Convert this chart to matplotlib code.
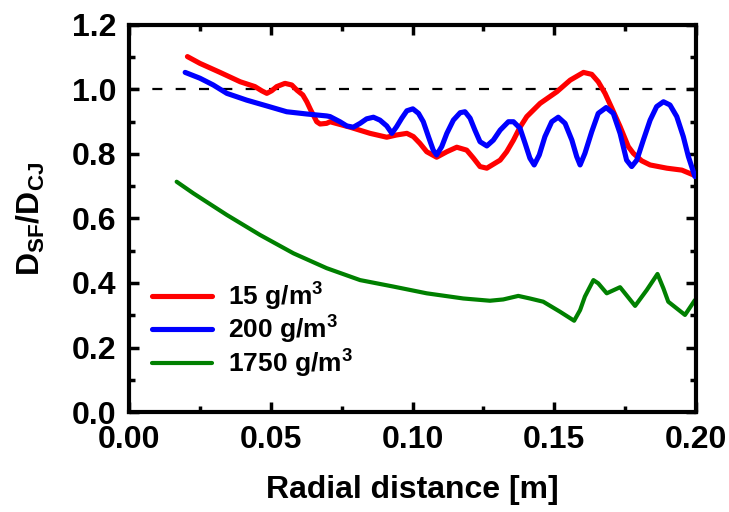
import matplotlib
matplotlib.use('Agg')
import matplotlib.pyplot as plt
from matplotlib.ticker import MultipleLocator

# ── data ──────────────────────────────────────────────────────────────────────
x_15 = [0.0206, 0.0250, 0.0321, 0.0392, 0.0444, 0.0468, 0.0486, 0.0503, 0.0521,
        0.0550, 0.0574, 0.0592, 0.0613, 0.0627, 0.0641, 0.0650, 0.0662, 0.0674,
        0.0697, 0.0709, 0.0780, 0.0850, 0.0909, 0.0944, 0.0980, 0.1003, 0.1026,
        0.1050, 0.1085, 0.1121, 0.1156, 0.1191, 0.1215, 0.1238, 0.1262, 0.1309,
        0.1332, 0.1356, 0.1379, 0.1403, 0.1450, 0.1509, 0.1556, 0.1603, 0.1632,
        0.1655, 0.1679, 0.1703, 0.1732, 0.1761, 0.1779, 0.1808, 0.1838, 0.1897,
        0.1950, 0.1991]
y_15 = [1.102, 1.081, 1.053, 1.024, 1.009, 0.996, 0.988, 0.996, 1.009,
        1.019, 1.014, 0.998, 0.983, 0.962, 0.936, 0.921, 0.900, 0.893,
        0.895, 0.900, 0.883, 0.864, 0.852, 0.859, 0.864, 0.854, 0.833,
        0.807, 0.790, 0.807, 0.821, 0.812, 0.787, 0.761, 0.756, 0.781,
        0.807, 0.843, 0.883, 0.916, 0.957, 0.993, 1.029, 1.053, 1.047,
        1.024, 0.988, 0.942, 0.885, 0.823, 0.802, 0.779, 0.766, 0.756,
        0.750, 0.735]

x_200 = [0.0198, 0.0250, 0.0297, 0.0345, 0.0415, 0.0486, 0.0556, 0.0627, 0.0697,
         0.0709, 0.0744, 0.0768, 0.0791, 0.0815, 0.0838, 0.0862, 0.0885, 0.0909,
         0.0927, 0.0944, 0.0962, 0.0980, 0.1001, 0.1021, 0.1038, 0.1056, 0.1073,
         0.1085, 0.1103, 0.1121, 0.1144, 0.1168, 0.1185, 0.1203, 0.1220, 0.1238,
         0.1262, 0.1285, 0.1309, 0.1338, 0.1356, 0.1379, 0.1397, 0.1414, 0.1429,
         0.1447, 0.1467, 0.1491, 0.1514, 0.1538, 0.1562, 0.1579, 0.1591, 0.1608,
         0.1632, 0.1655, 0.1683, 0.1708, 0.1732, 0.1755, 0.1773, 0.1791, 0.1814,
         0.1838, 0.1861, 0.1885, 0.1908, 0.1932, 0.1955, 0.1973, 0.1996]
y_200 = [1.053, 1.035, 1.014, 0.988, 0.967, 0.949, 0.931, 0.924, 0.918,
         0.916, 0.900, 0.887, 0.883, 0.895, 0.909, 0.914, 0.905, 0.887,
         0.864, 0.885, 0.911, 0.934, 0.940, 0.926, 0.900, 0.854, 0.812,
         0.797, 0.823, 0.864, 0.905, 0.928, 0.931, 0.911, 0.874, 0.838,
         0.825, 0.843, 0.874, 0.900, 0.900, 0.880, 0.833, 0.787, 0.766,
         0.797, 0.854, 0.900, 0.914, 0.895, 0.843, 0.792, 0.766, 0.802,
         0.869, 0.926, 0.944, 0.926, 0.864, 0.781, 0.761, 0.781, 0.843,
         0.905, 0.947, 0.962, 0.952, 0.916, 0.854, 0.792, 0.730]

x_1750 = [0.0168, 0.0227, 0.0345, 0.0462, 0.0580, 0.0697, 0.0815, 0.0932, 0.1050,
          0.1179, 0.1273, 0.1320, 0.1373, 0.1414, 0.1461, 0.1520, 0.1570, 0.1591,
          0.1608, 0.1638, 0.1655, 0.1685, 0.1732, 0.1785, 0.1826, 0.1864, 0.1885,
          0.1902, 0.1961, 0.1996]
y_1750 = [0.714, 0.678, 0.611, 0.549, 0.492, 0.446, 0.409, 0.389, 0.368,
          0.352, 0.345, 0.349, 0.360, 0.352, 0.342, 0.311, 0.283, 0.316,
          0.358, 0.409, 0.399, 0.368, 0.387, 0.329, 0.378, 0.428, 0.383,
          0.342, 0.301, 0.347]

labels = ["15 g/m$^3$", "200 g/m$^3$", "1750 g/m$^3$"]

# ── style ─────────────────────────────────────────────────────────────────────
plt.rcParams.update({
    "font.family": "Liberation Sans",
    "font.weight": "bold",
    "axes.labelweight": "bold",
    "mathtext.fontset": "custom",
    "mathtext.rm": "Liberation Sans:bold",
    "mathtext.it": "Liberation Sans:bold",
    "mathtext.bf": "Liberation Sans:bold",
    "mathtext.default": "rm",
    "lines.solid_joinstyle": "round",
    "lines.solid_capstyle": "round",
})

fig = plt.figure(figsize=(7.29, 5.12), dpi=100)
ax = fig.add_axes([0.1770, 0.1953, 0.7778, 0.7559])

ax.axhline(1.0, color="black", lw=1.6, ls=(0, (4.5, 6.0)), zorder=1)

ax.plot(x_15, y_15, color="#ff0000", lw=3.7, label=labels[0], zorder=3)
ax.plot(x_200, y_200, color="#0000ff", lw=3.7, label=labels[1], zorder=4)
ax.plot(x_1750, y_1750, color="#008000", lw=3.0, label=labels[2], zorder=2)

ax.set_xlim(0, 0.2)
ax.set_ylim(0, 1.2)
ax.xaxis.set_major_locator(MultipleLocator(0.05))
ax.xaxis.set_minor_locator(MultipleLocator(0.025))
ax.yaxis.set_major_locator(MultipleLocator(0.2))
ax.yaxis.set_minor_locator(MultipleLocator(0.1))
ax.xaxis.set_major_formatter(plt.FormatStrFormatter("%.2f"))
ax.yaxis.set_major_formatter(plt.FormatStrFormatter("%.1f"))

for s in ax.spines.values():
    s.set_linewidth(3)
ax.tick_params(which="both", direction="in", top=True, right=True, width=2.5)
ax.tick_params(which="major", length=7, labelsize=23, pad=9)
ax.tick_params(which="minor", length=4.5)

ax.set_xlabel("Radial distance [m]", fontsize=23, labelpad=15)
ax.set_ylabel("D$_{SF}$/D$_{CJ}$", fontsize=23)
ax.yaxis.set_label_coords(-0.145, 0.5)

ax.legend(loc="center left", bbox_to_anchor=(0.04, 0.212), frameon=False,
          fontsize=19, handlelength=2.3, handletextpad=0.6, labelspacing=0.05,
          borderpad=0, borderaxespad=0)

plt.savefig("out.png", dpi=100)
